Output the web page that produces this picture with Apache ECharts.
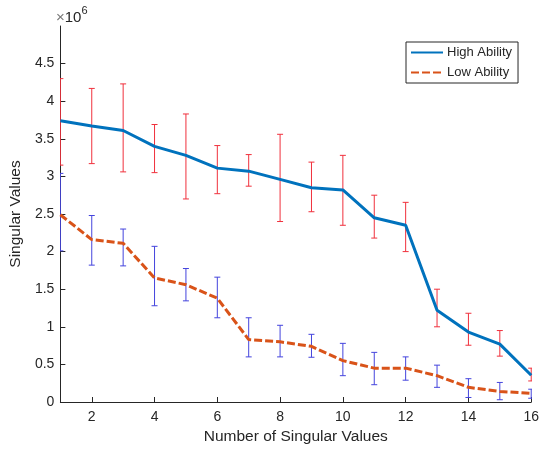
<!DOCTYPE html>
<html>
<head>
<meta charset="utf-8">
<script src="https://cdn.jsdelivr.net/npm/echarts@6/dist/echarts.min.js"></script>
<style>
html,body{margin:0;padding:0;background:#fff;}
#chart{width:542px;height:454px;}
</style>
</head>
<body>
<div id="chart"></div>
<script>
// Values in units of 10^6
const xValues   = [1,2,3,4,5,6,7,8,9,10,11,12,13,14,15,16];
const highMean  = [3.74,3.67,3.61,3.40,3.28,3.11,3.07,2.96,2.85,2.82,2.45,2.35,1.22,0.93,0.77,0.355];
const highUpper = [4.30,4.17,4.23,3.69,3.83,3.41,3.29,3.56,3.19,3.28,2.75,2.655,1.50,1.18,0.95,0.45];
const highLower = [3.15,3.17,3.06,3.05,2.70,2.77,2.87,2.40,2.53,2.35,2.18,2.00,1.00,0.755,0.61,0.28];
const lowMean   = [2.49,2.16,2.11,1.65,1.56,1.38,0.83,0.80,0.74,0.55,0.45,0.45,0.35,0.195,0.14,0.115];
const lowUpper  = [3.04,2.48,2.30,2.07,1.775,1.66,1.12,1.02,0.90,0.78,0.66,0.60,0.49,0.31,0.26,0.17];
const lowLower  = [2.01,1.82,1.81,1.28,1.345,1.12,0.60,0.60,0.595,0.35,0.23,0.29,0.195,0.06,0.03,0.05];
const xTicks = [2,4,6,8,10,12,14,16];
const yTicks = [0,0.5,1,1.5,2,2.5,3,3.5,4,4.5];
const seriesNames = ['High Ability','Low Ability'];

const chart = echarts.init(document.getElementById('chart'), null, {renderer:'canvas'});
const FONT = 'Liberation Sans, Arial, sans-serif';
const AX = '#262626';

function errData(lo, hi){ return xValues.map((x,i)=>[x, lo[i], hi[i]]); }
function errSeries(lo, hi, color){
  return {
    type:'custom',
    clip:true,
    z:1,
    silent:true,
    data: errData(lo, hi),
    encode:{x:0, y:[1,2]},
    renderItem:function(params, api){
      const p1 = api.coord([api.value(0), api.value(1)]);
      const p2 = api.coord([api.value(0), api.value(2)]);
      const hw = 3;
      const st = {stroke:color, lineWidth:1};
      return {type:'group', children:[
        {type:'line', shape:{x1:p1[0], y1:p1[1], x2:p2[0], y2:p2[1]}, style:st},
        {type:'line', shape:{x1:p1[0]-hw, y1:p1[1], x2:p1[0]+hw, y2:p1[1]}, style:st},
        {type:'line', shape:{x1:p2[0]-hw, y1:p2[1], x2:p2[0]+hw, y2:p2[1]}, style:st}
      ]};
    }
  };
}

const option = {
  backgroundColor:'#fff',
  animation:false,
  grid:{left:55, right:10, top:26, bottom:52},
  xAxis:{
    type:'value', min:1, max:16,
    name:'Number of Singular Values', nameLocation:'middle', nameGap:26,
    nameTextStyle:{fontFamily:FONT, fontSize:15.5, color:AX},
    axisLine:{lineStyle:{color:AX, width:1}},
    axisTick:{inside:true, length:5, lineStyle:{color:AX}, customValues:xTicks},
    axisLabel:{fontFamily:FONT, fontSize:14, color:AX, margin:8, customValues:xTicks},
    splitLine:{show:false}
  },
  yAxis:{
    type:'value', min:0, max:5,
    name:'Singular Values', nameLocation:'middle', nameGap:32,
    nameTextStyle:{fontFamily:FONT, fontSize:15.5, color:AX},
    axisLine:{show:true, lineStyle:{color:AX, width:1}},
    axisTick:{show:true, inside:true, length:5, lineStyle:{color:AX}, customValues:yTicks},
    axisLabel:{fontFamily:FONT, fontSize:14, color:AX, margin:6, customValues:yTicks},
    splitLine:{show:false}
  },
  legend:{
    orient:'vertical', left:406, top:42,
    data:seriesNames,
    itemWidth:32, itemHeight:12, itemGap:7,
    padding:[4,6,4,4],
    borderColor:AX, borderWidth:1, backgroundColor:'#fff',
    itemStyle:{color:'rgba(0,0,0,0)', borderWidth:0, opacity:0},
    textStyle:{fontFamily:FONT, fontSize:13, color:AX, padding:[0,0,0,-1]}
  },
  graphic:[{
    type:'text', left:56, top:5,
    style:{
      text:'{a|×}{b|10}{c|6}',
      rich:{
        a:{fontFamily:FONT, fontSize:15, fill:'#777', verticalAlign:'bottom', lineHeight:20},
        b:{fontFamily:FONT, fontSize:15, fill:AX, verticalAlign:'bottom', lineHeight:20},
        c:{fontFamily:FONT, fontSize:11, fill:AX, verticalAlign:'top', lineHeight:20}
      }
    }
  }],
  series:[
    errSeries(highLower, highUpper, '#f0303c'),
    errSeries(lowLower, lowUpper, '#4444dd'),
    {
      name:seriesNames[0], type:'line', z:3,
      data:xValues.map((x,i)=>[x, highMean[i]]),
      symbol:'none', clip:true,
      lineStyle:{color:'#0072BD', width:3, type:'solid'},
      itemStyle:{color:'#0072BD'}
    },
    {
      name:seriesNames[1], type:'line', z:3,
      data:xValues.map((x,i)=>[x, lowMean[i]]),
      symbol:'none', clip:true,
      lineStyle:{color:'#D95319', width:3, type:[8,3]},
      itemStyle:{color:'#D95319'}
    }
  ]
};
chart.setOption(option);
</script>
</body>
</html>
